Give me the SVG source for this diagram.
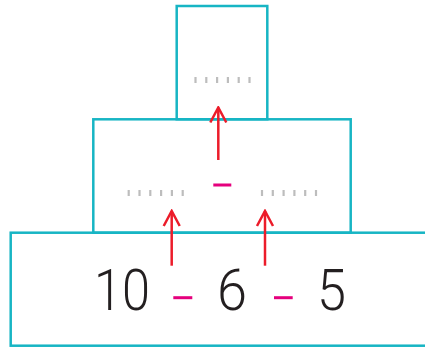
<svg xmlns="http://www.w3.org/2000/svg" width="425" height="351" viewBox="0 0 425 351">
<style>
.box{fill:none;stroke:#17b5c4;stroke-width:2.5}
.ticks{stroke:#bdbdbd;stroke-width:2.2}
.minus{stroke:#e5007d;stroke-width:3}
.arr{fill:none;stroke:#ec1c2a;stroke-width:2.5}
.num{font-family:Roboto,"Liberation Sans",sans-serif;font-weight:300;font-size:58px;fill:#231f20}
</style>
<defs>
<marker id="ah" viewBox="0 0 20 20" refX="18" refY="10" markerWidth="20" markerHeight="20" markerUnits="userSpaceOnUse" orient="auto">
<path d="M3,2 L18,10 L3,18" fill="none" stroke="#ec1c2a" stroke-width="2.5"/>
</marker>
<g id="tk">
<line x1="0" y1="-3" x2="0" y2="3"/>
<line x1="10.8" y1="-3" x2="10.8" y2="3"/>
<line x1="21.6" y1="-3" x2="21.6" y2="3"/>
<line x1="32.4" y1="-3" x2="32.4" y2="3"/>
<line x1="43.2" y1="-3" x2="43.2" y2="3"/>
<line x1="54" y1="-3" x2="54" y2="3"/>
</g>
</defs>
<rect width="425" height="351" fill="#fff"/>
<g id="top">
<rect class="box" x="176.7" y="6" width="90.6" height="113.3"/>
<use href="#tk" x="195.5" y="80" class="ticks"/>
</g>
<g id="middle">
<rect class="box" x="93.3" y="119.3" width="257.4" height="113.4"/>
<use href="#tk" x="128.7" y="193" class="ticks"/>
<use href="#tk" x="262" y="193" class="ticks"/>
<line class="minus" x1="213.3" y1="185" x2="231.3" y2="185"/>
</g>
<g id="bottom">
<rect class="box" x="10.7" y="232.7" width="420" height="113"/>
<text class="num" x="94" y="310" textLength="56" lengthAdjust="spacingAndGlyphs">10</text>
<text class="num" x="217" y="310" textLength="30" lengthAdjust="spacingAndGlyphs">6</text>
<text class="num" x="317" y="310" textLength="29" lengthAdjust="spacingAndGlyphs">5</text>
<line class="minus" x1="173.3" y1="297.7" x2="192.3" y2="297.7"/>
<line class="minus" x1="274" y1="297.7" x2="292.7" y2="297.7"/>
</g>
<g id="connectors">
<line class="arr" x1="218.3" y1="160" x2="218.3" y2="107.5" marker-end="url(#ah)"/>
<line class="arr" x1="171.7" y1="265.7" x2="171.7" y2="211" marker-end="url(#ah)"/>
<line class="arr" x1="265" y1="265.7" x2="265" y2="211" marker-end="url(#ah)"/>
</g>
</svg>
